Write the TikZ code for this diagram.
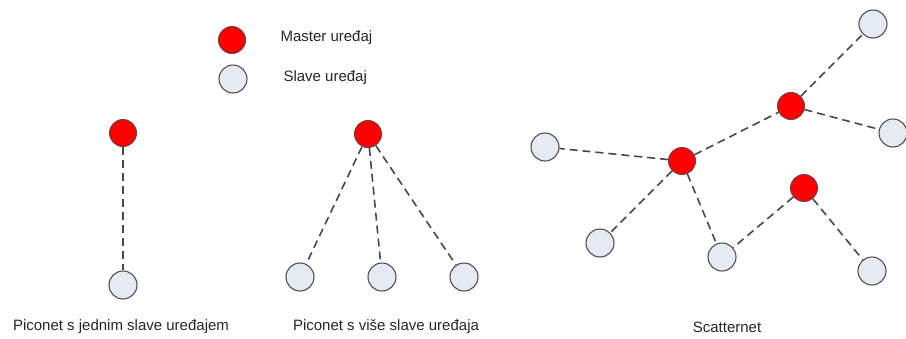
\documentclass[tikz,border=0pt]{standalone}
\usepackage{fontspec}
\setmainfont{Liberation Sans}
\usetikzlibrary{positioning}

\definecolor{masterred}{HTML}{FF0000}
\definecolor{slavefill}{HTML}{E6EAF3}
\definecolor{rimgray}{HTML}{505050}

\tikzset{
  master/.style={circle, draw=rimgray!80!red, fill=masterred, line width=1pt, minimum size=27pt, inner sep=0pt},
  slave/.style={circle, draw=rimgray, fill=slavefill, line width=1.1pt, minimum size=28pt, inner sep=0pt},
  link/.style={draw=rimgray!90!black, line width=1.6pt, dash pattern=on 8pt off 5pt},
  caption/.style={font=\fontsize{15}{17}\selectfont, text=black!85}
}

\begin{document}
\begin{tikzpicture}[x=1pt, y=-1pt]
\useasboundingbox (0,0) rectangle (906,338);

% legend
\node[master] (lm) at (232,40) {};
\node[slave]  (ls) at (233,79) {};
\node[caption, anchor=west] (lmt) at (277,38) {Master uređaj};
\node[caption, anchor=west] (lst) at (280,78) {Slave uređaj};

% piconet with one slave
\node[master] (a0) at (123,133) {};
\node[slave]  (a1) at (123,285) {};
\draw[link] (a0) -- (a1);
\node[caption] (ta) at (121,327) {Piconet s jednim slave uređajem};

% piconet with several slaves
\node[master] (b0) at (368,134) {};
\node[slave]  (b1) at (300,277) {};
\node[slave]  (b2) at (382,277) {};
\node[slave]  (b3) at (464,277) {};
\foreach \i in {1,2,3}{\draw[link] (b0) -- (b\i);}
\node[caption] (tb) at (386,327) {Piconet s više slave uređaja};

% scatternet
\node[master] (m1) at (682,161) {};
\node[master] (m2) at (791,106) {};
\node[master] (m3) at (804,188) {};
\node[slave]  (s1) at (545,147) {};
\node[slave]  (s2) at (873,24) {};
\node[slave]  (s3) at (893,133) {};
\node[slave]  (s4) at (600,243) {};
\node[slave]  (s5) at (722,257) {};
\node[slave]  (s6) at (872,271) {};
\foreach \a/\b in {m1/s1, m1/m2, m2/s2, m2/s3, m1/s4, m1/s5, m3/s5, m3/s6}
  {\draw[link] (\a) -- (\b);}
\node[caption] (tc) at (727,327) {Scatternet};

\end{tikzpicture}
\end{document}
